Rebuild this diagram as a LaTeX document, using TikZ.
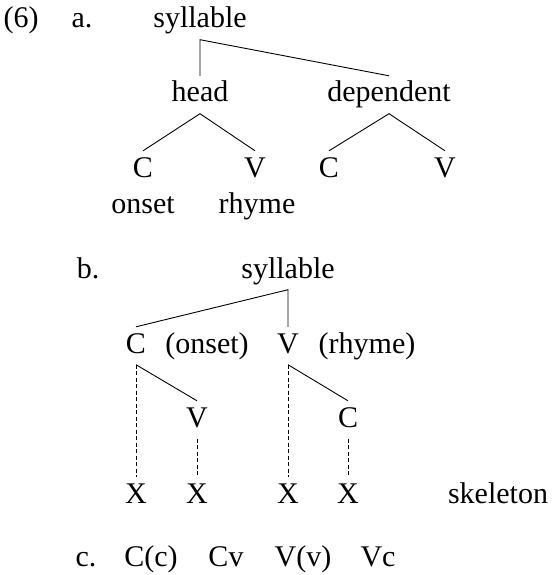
\documentclass[tikz,border=0pt]{standalone}
\usepackage{fontspec}
\setmainfont{Liberation Serif}
\usepackage{tikz}
\usetikzlibrary{positioning,calc}

\tikzset{
  lbl/.style={inner sep=0pt, anchor=base},
  tnode/.style={anchor=base, inner xsep=0pt, inner ysep=5pt, text height=21pt, text depth=6.5pt},
  branch/.style={line width=0.9pt},
  assoc/.style={line width=0.9pt, dash pattern=on 4pt off 2.5pt}
}

\begin{document}
\begin{tikzpicture}[x=1pt, y=-1pt, font=\fontsize{30}{36}\selectfont]
    \useasboundingbox (0,0) rectangle (553,575);
    % (a) head / dependent
    \node[lbl] (exnum) at (21,28) {(6)};
    \node[lbl] (ia) at (82,28) {a.};
    \node[tnode] (syl) at (200,28) {syllable};
    \node[tnode] (head) at (200,102) {head};
    \node[tnode] (dep) at (389,102) {dependent};
    \node[tnode] (hC) at (143,177) {C};
    \node[tnode] (hV) at (255,177) {V};
    \node[tnode] (dC) at (329,177) {C};
    \node[tnode] (dV) at (445,177) {V};
    \node[lbl] (onset) at (143,213) {onset};
    \node[lbl] (rhyme) at (257,213) {rhyme};
    \draw[branch] (head.north) -- (syl.south) -- (dep.north);
    \draw[branch] (hC.north) -- (head.south) -- (hV.north);
    \draw[branch] (dC.north) -- (dep.south) -- (dV.north);
    % (b) skeleton
    \node[lbl] (ib) at (88,278) {b.};
    \node[tnode] (bSyl) at (288,278) {syllable};
    \node[tnode] (bC) at (136,353) {C};
    \node[lbl] (bOnset) at (207,353) {(onset)};
    \node[tnode] (bV) at (288,353) {V};
    \node[lbl] (bRhyme) at (367,353) {(rhyme)};
    \node[tnode] (bV2) at (197,427) {V};
    \node[tnode] (bC2) at (348,427) {C};
    \node[tnode] (x1) at (136,503) {X};
    \node[tnode] (x2) at (197,503) {X};
    \node[tnode] (x3) at (288,503) {X};
    \node[tnode] (x4) at (348,503) {X};
    \node[lbl] (skel) at (498,503) {skeleton};
    \draw[branch] (bC.north) -- (bSyl.south) -- (bV.north);
    \draw[branch] (bC.south) -- (bV2.north);
    \draw[branch] (bV.south) -- (bC2.north);
    \draw[assoc] (bC.south) -- (x1.north);
    \draw[assoc] (bV2.south) -- (x2.north);
    \draw[assoc] (bV.south) -- (x3.north);
    \draw[assoc] (bC2.south) -- (x4.north);
    % (c)
    \node[lbl] (ic) at (86,566) {c.};
    \node[lbl] (cCc) at (151,566) {C(c)};
    \node[lbl] (cCv) at (226,566) {Cv};
    \node[lbl] (cVv) at (303,566) {V(v)};
    \node[lbl] (cVc) at (378,566) {Vc};
\end{tikzpicture}
\end{document}
